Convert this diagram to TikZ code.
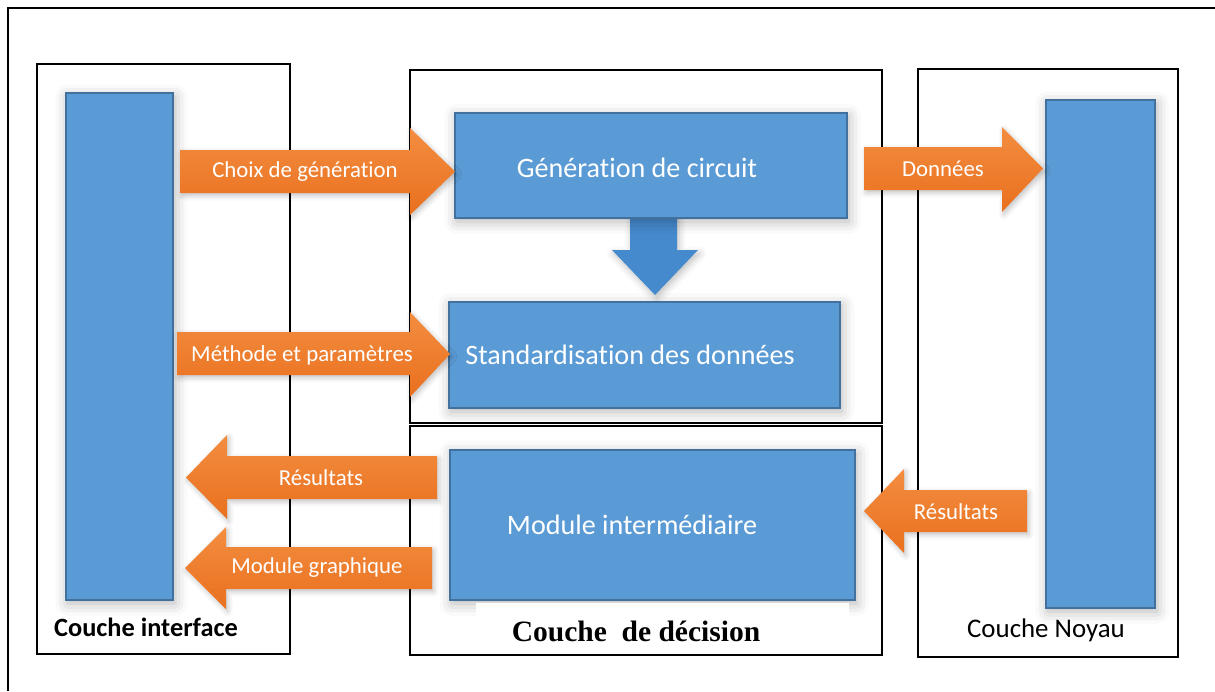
\documentclass[tikz,border=0pt]{standalone}
\usepackage{fontspec}
\setmainfont{Carlito}[Ligatures=NoCommon]
\newfontfamily\seriffont{Liberation Serif}
\usetikzlibrary{shadows.blur}
\definecolor{bleu}{RGB}{91,155,213}
\definecolor{bleufonce}{RGB}{65,113,156}
\definecolor{bleufleche}{RGB}{70,138,206}
\definecolor{orangeclair}{RGB}{243,141,64}
\definecolor{orangefonce}{RGB}{233,112,30}

\begin{document}
\begin{tikzpicture}[x=0.02cm, y=-0.02cm,
    cadre/.style={draw=black, line width=1.1pt},
    ombre/.style={blur shadow={shadow xshift=1pt, shadow yshift=-2pt, shadow blur radius=7pt, shadow opacity=30}},
    bloc/.style={draw=bleufonce, fill=bleu, line width=0.8pt, inner sep=0pt, ombre},
    bloctexte/.style={text=white, font=\fontsize{16}{19}\selectfont},
    fleche/.style={top color=orangeclair, bottom color=orangefonce, draw=none,
        blur shadow={shadow xshift=1pt, shadow yshift=-1.5pt, shadow blur radius=3pt, shadow opacity=25}},
    flechetexte/.style={text=white, inner sep=1pt, font=\fontsize{13}{15}\selectfont}]

    \useasboundingbox (0,0) rectangle (1215,691);

    % cadre general et couches
    \draw[cadre] (8,691) -- (8,8) -- (1215,8);
    \draw[cadre] (37,64) rectangle (290,654);
    \draw[cadre] (410,70) rectangle (882,423);
    \draw[cadre] (410,426) rectangle (882,655);
    \draw[cadre] (918,69) rectangle (1178,657);

    % fleche bleue (sous le bloc)
    \fill[bleufleche, blur shadow={shadow xshift=1pt, shadow yshift=-2pt, shadow blur radius=4pt, shadow opacity=25}]
        (630,214) -- (677,214) -- (677,250) -- (698,250) -- (655,295)
        -- (612,250) -- (630,250) -- cycle;

    % blocs
    \node[bloc, minimum width=2.14cm, minimum height=10.14cm] (interface) at (119.5,346.5) {};
    \node[bloc, minimum width=2.18cm, minimum height=10.16cm] (noyau) at (1100.5,354) {};
    \node[bloc, minimum width=7.84cm, minimum height=2.1cm,
        label={[bloctexte, xshift=-0.28cm, yshift=-0.05cm]center:Génération de circuit}] (generation) at (651,165.5) {};
    \node[bloc, minimum width=7.82cm, minimum height=2.12cm,
        label={[bloctexte, xshift=-0.29cm]center:Standardisation des données}] (standard) at (644.5,355) {};
    \node[bloc, minimum width=8.1cm, minimum height=3cm,
        label={[bloctexte, xshift=-0.41cm]center:Module intermédiaire}] (module) at (652.5,525) {};

    % fleches oranges
    \path[fleche] (180,150) -- (410,150) -- (410,128) -- (455,171.5) -- (410,215) -- (410,193) -- (180,193) -- cycle;
    \node[flechetexte] (choix) at (305,172) {Choix de génération};

    \path[fleche] (177,332) -- (410,332) -- (410,312) -- (450,354) -- (410,397) -- (410,375) -- (177,375) -- cycle;
    \node[flechetexte] (methode) at (302,355) {Méthode et paramètres};

    \path[fleche] (864,147) -- (1002,147) -- (1002,127) -- (1043,168.5) -- (1002,212) -- (1002,190) -- (864,190) -- cycle;
    \node[flechetexte] (donnees) at (943,169) {Données};

    \path[fleche] (437,456) -- (227,456) -- (227,435) -- (186,477.5) -- (227,519) -- (227,499) -- (437,499) -- cycle;
    \node[flechetexte] (resultatsg) at (321,478) {Résultats};

    \path[fleche] (432,547) -- (226,547) -- (226,527) -- (185,568) -- (226,609) -- (226,589) -- (432,589) -- cycle;
    \node[flechetexte] (graphique) at (317,568) {Module graphique};

    \path[fleche] (1027,490) -- (904,490) -- (904,469) -- (864,511) -- (904,553) -- (904,532) -- (1027,532) -- cycle;
    \node[flechetexte] (resultatsd) at (956,512) {Résultats};

    % noms des couches
    \node[fill=white, inner sep=0pt, minimum width=7.46cm, minimum height=1cm,
        label={[font=\seriffont\bfseries\fontsize{16.8}{20}\selectfont, xshift=-0.53cm, yshift=-0.06cm]center:Couche~ de décision}] (decision) at (662.5,628) {};
    \node[font=\bfseries\fontsize{15}{18}\selectfont] (lblinterface) at (146,627) {Couche interface};
    \node[font=\fontsize{15.3}{18}\selectfont] (lblnoyau) at (1046,630) {Couche Noyau};

\end{tikzpicture}
\end{document}
